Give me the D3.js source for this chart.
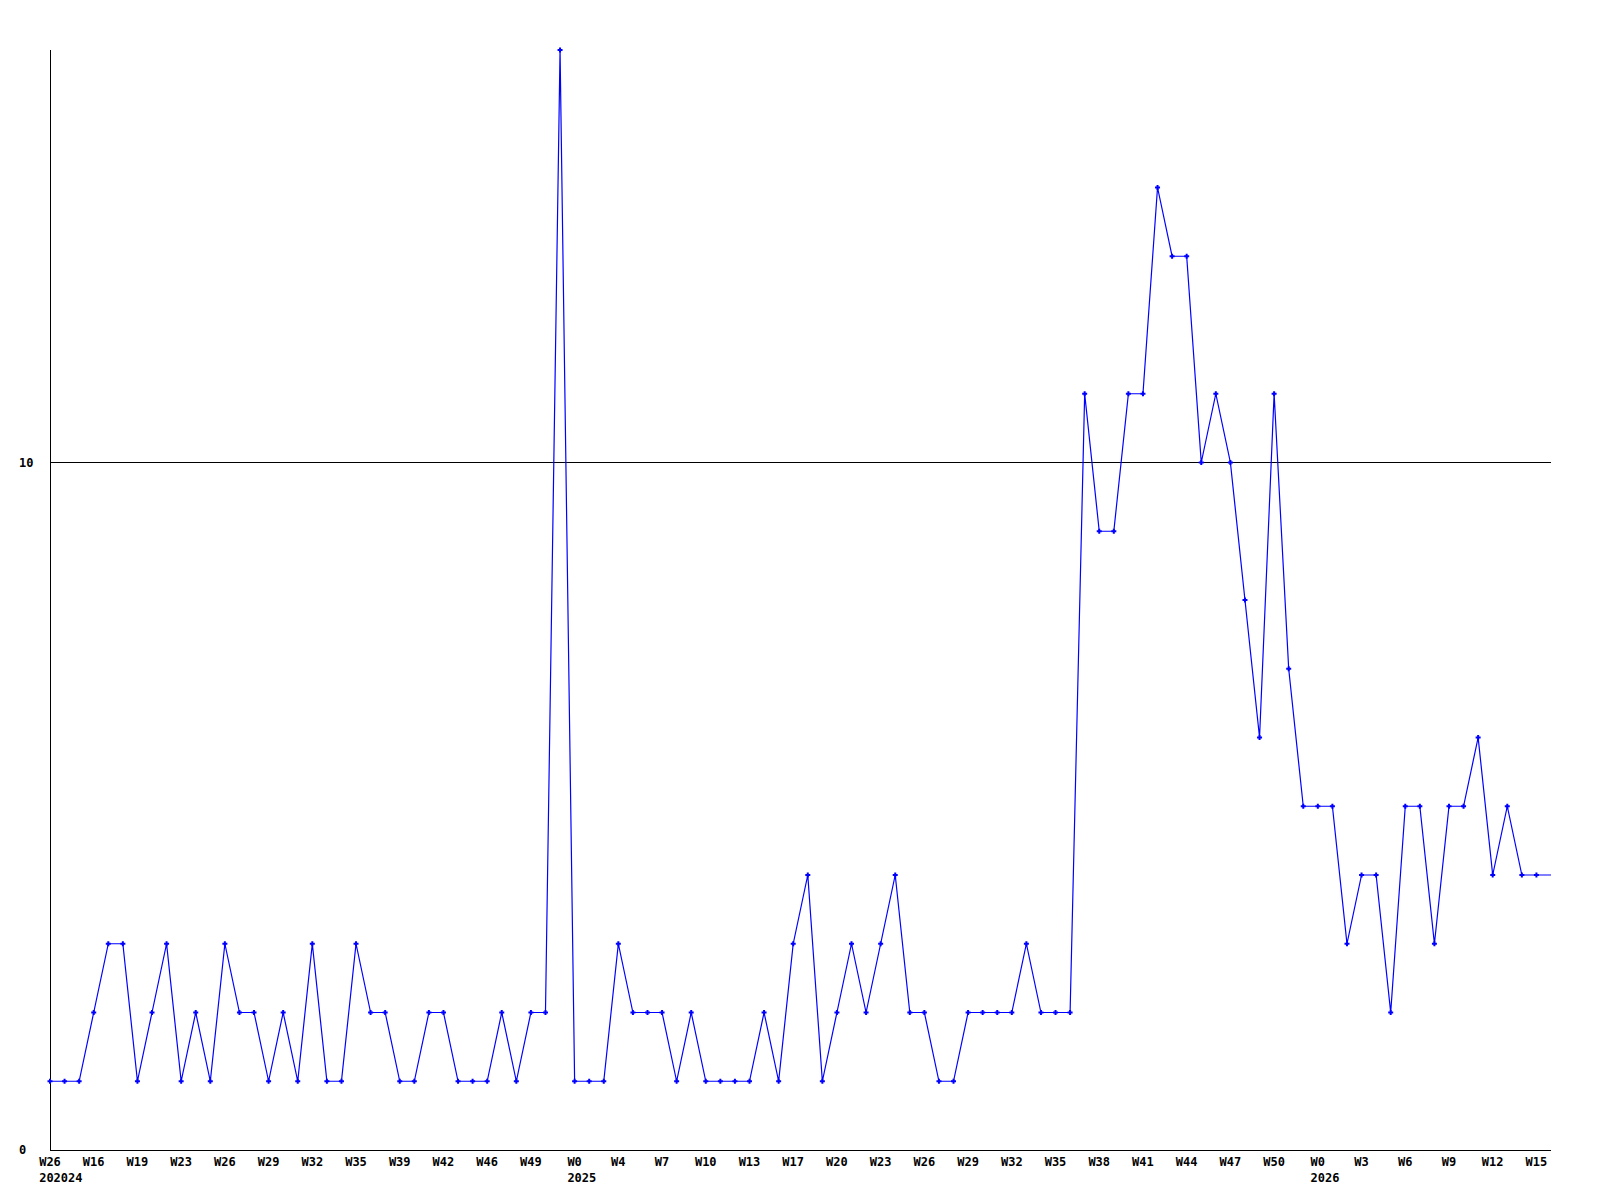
<!DOCTYPE html>
<html>
<head>
<meta charset="utf-8">
<script src="https://cdn.jsdelivr.net/npm/d3@7"></script>
<style>
  body { margin: 0; background: #fff; }
  text { font-family: "DejaVu Sans Mono", "Liberation Mono", monospace; font-weight: bold; font-size: 12px; fill: #000; }
</style>
</head>
<body>
<div id="chart"></div>
<script>
// weekly counts, one per point
var values = [
  1,1,1,2,3,3,1,2,3,1,2,1,3,2,2,1,2,1,3,1,1,3,2,2,1,1,2,2,1,1,1,2,1,2,2,
  16,
  1,1,1,3,2,2,2,1,2,1,1,1,1,2,1,3,4,1,2,3,2,3,4,2,2,1,1,2,2,2,2,3,2,2,2,
  11,9,9,11,11,14,13,13,10,11,10,8,6,11,7,5,5,5,3,4,4,2,5,5,3,5,5,6,4,5,4,4,4
];

// a label every third point
var weekLabels = [
  'W26','W16','W19','W23','W26','W29','W32','W35','W39','W42','W46','W49',
  'W0','W4','W7','W10','W13','W17','W20','W23','W26','W29','W32','W35',
  'W38','W41','W44','W47','W50','W0','W3','W6','W9','W12','W15'
];
var yearLabels = [
  {idx: 0, label: '202024'},
  {idx: 36, label: '2025'},
  {idx: 87, label: '2026'}
];
var yTicks = [0, 10];
var gridLines = [10];

(function(){

var width = 1600, height = 1200;
// plot area
var pLeft = 50, pRight = 1551, pTop = 50, pBottom = 1150;

var svg = d3.select('#chart').append('svg')
  .attr('width', width)
  .attr('height', height);

var x = d3.scaleLinear().domain([0, values.length - 1]).range([pLeft, pRight]);
var y = d3.scaleLinear().domain([0, 16]).range([pBottom, pTop]);

// grid line at 10
svg.selectAll('line.grid').data(gridLines).enter()
  .append('line')
  .attr('class', 'grid')
  .attr('x1', pLeft).attr('x2', pRight)
  .attr('y1', function(d) { return Math.floor(y(d)) + 0.5; })
  .attr('y2', function(d) { return Math.floor(y(d)) + 0.5; })
  .attr('stroke', '#000').attr('stroke-width', 1)
  .attr('shape-rendering', 'crispEdges');

// axes lines
svg.append('line')
  .attr('x1', pLeft + 0.5).attr('x2', pLeft + 0.5)
  .attr('y1', pTop).attr('y2', pBottom)
  .attr('stroke', '#000')
  .attr('shape-rendering', 'crispEdges');
svg.append('line')
  .attr('x1', pLeft).attr('x2', pRight)
  .attr('y1', pBottom + 0.5).attr('y2', pBottom + 0.5)
  .attr('stroke', '#000')
  .attr('shape-rendering', 'crispEdges');

// y labels, left aligned
svg.selectAll('text.ylab').data(yTicks).enter()
  .append('text')
  .attr('class', 'ylab')
  .attr('x', 19)
  .attr('y', function(d) { return y(d) + 4; })
  .text(function(d) { return d; });

// x labels
var wk = svg.selectAll('text.wk').data(weekLabels).enter()
  .append('text')
  .attr('class', 'wk')
  .attr('x', function(d, i) { return x(i * 3); })
  .attr('y', pBottom + 16)
  .attr('text-anchor', 'middle')
  .text(function(d) { return d; });

var wkNodes = wk.nodes();
svg.selectAll('text.yr').data(yearLabels).enter()
  .append('text')
  .attr('class', 'yr')
  .attr('x', function(d) {
    var n = wkNodes[d.idx / 3];
    return x(d.idx) - n.getComputedTextLength() / 2;
  })
  .attr('y', pBottom + 32)
  .text(function(d) { return d.label; });

// the series
var line = d3.line()
  .x(function(d, i) { return x(i); })
  .y(function(d) { return y(d); });

svg.append('path')
  .datum(values)
  .attr('d', line)
  .attr('fill', 'none')
  .attr('stroke', '#0000ff')
  .attr('stroke-width', 1.2);

// markers (last point has none)
var pts = values.slice(0, values.length - 1);
svg.selectAll('path.mark').data(pts).enter()
  .append('path')
  .attr('class', 'mark')
  .attr('transform', function(d, i) { return 'translate(' + x(i) + ',' + y(d) + ')'; })
  .attr('d', 'M-2.5,0H2.5M0,-2.5V2.5')
  .attr('stroke', '#0000ff')
  .attr('stroke-width', 2);

})();
</script>
</body>
</html>
